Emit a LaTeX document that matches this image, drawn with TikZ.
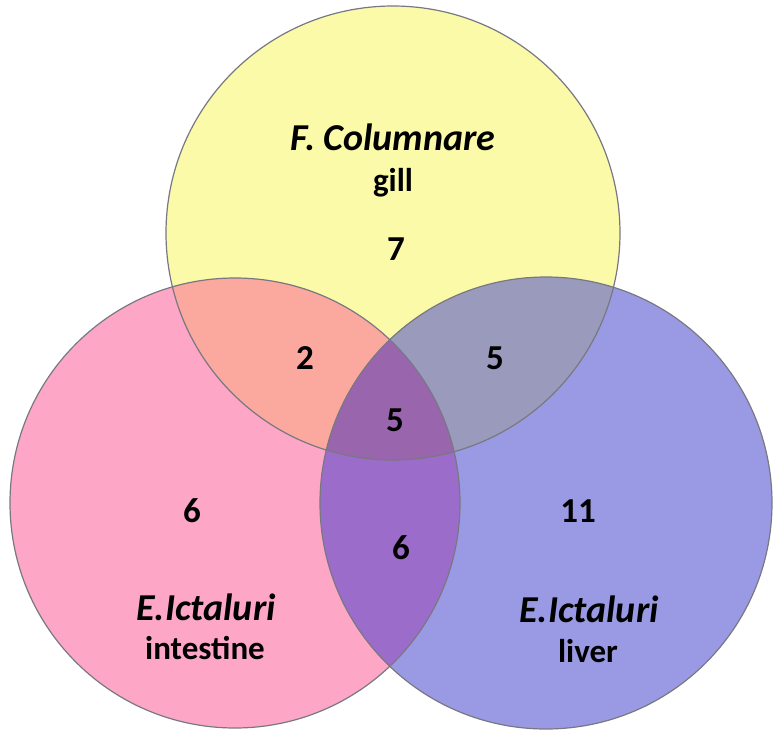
\documentclass[tikz,border=0pt]{standalone}
\usepackage{fontspec}
\setmainfont{Carlito}
\definecolor{cY}{RGB}{250,250,169}
\definecolor{cP}{RGB}{253,166,198}
\definecolor{cB}{RGB}{154,154,228}
\definecolor{cYP}{RGB}{251,168,158}
\definecolor{cYB}{RGB}{154,154,189}
\definecolor{cPB}{RGB}{156,108,203}
\definecolor{cYPB}{RGB}{153,102,174}
\definecolor{edge}{RGB}{120,120,130}
\tikzset{lbl/.style={font=\fontsize{33}{33}\selectfont\bfseries, inner sep=0pt, align=center},
 num/.style={font=\fontsize{35}{35}\selectfont\bfseries, inner sep=0pt},
 ital/.style={font=\fontsize{38}{38}\selectfont\bfseries\itshape, inner sep=0pt},
 circ/.style={draw=edge, line width=1.2pt}}
\begin{document}
\begin{tikzpicture}[x=1pt,y=-1pt]
\useasboundingbox (0,0) rectangle (780,737);
\def\Y{(393,233) circle (227)}
\def\P{(235,503) circle (225)}
\def\B{(546,503) circle (226)}
\fill[cY] \Y;
\fill[cP] \P;
\fill[cB] \B;
\begin{scope}\clip \Y; \fill[cYP] \P; \fill[cYB] \B; \end{scope}
\begin{scope}\clip \P; \fill[cPB] \B; \end{scope}
\begin{scope}\clip \Y; \clip \P; \fill[cYPB] \B; \end{scope}
\draw[circ] \Y; \draw[circ] \P; \draw[circ] \B;
\node[ital] (t1) at (393,137) {F. Columnare};
\node[lbl] (t2) at (393,183) {gill};
\node[num] (n7) at (396,249) {7};
\node[num] (n2) at (305,358) {2};
\node[num] (n5a) at (495,358) {5};
\node[num] (n5b) at (395,420) {5};
\node[num] (n6a) at (192,511) {6};
\node[num] (n11) at (578,511) {11};
\node[num] (n6b) at (401,548) {6};
\node[ital] (l1) at (206,607) {E.Ictaluri};
\node[lbl] (l2) at (205,648) {intestine};
\node[ital] (r1) at (589,609) {E.Ictaluri};
\node[lbl] (r2) at (588,651) {liver};
\end{tikzpicture}
\end{document}
